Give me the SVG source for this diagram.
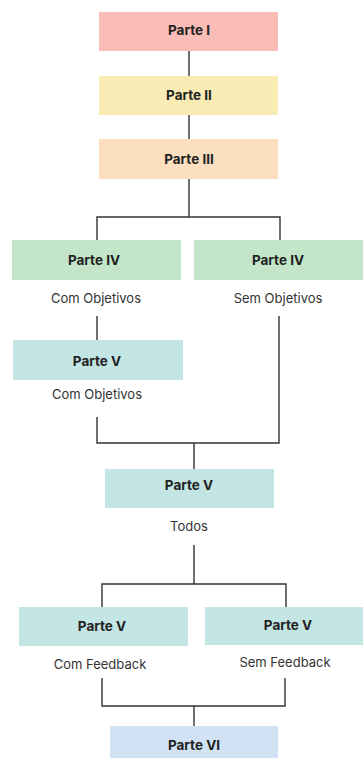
<svg xmlns="http://www.w3.org/2000/svg" width="363" height="758" viewBox="0 0 363 758">
  <style>
    .title { font-family: Inter, "Noto Sans", sans-serif; font-size: 13.5px; font-weight: 700; fill: #222; text-anchor: middle; dominant-baseline: central; }
    .sub { font-family: Inter, "Noto Sans", sans-serif; font-size: 13px; fill: #333; text-anchor: middle; dominant-baseline: central; }
    .wire { fill: none; stroke: #333; stroke-width: 1.4; }
  </style>
  <rect width="363" height="758" fill="#ffffff"/>

  <g id="connectors">
    <path class="wire" d="M189 51 V76"/>
    <path class="wire" d="M189 115 V139"/>
    <path class="wire" d="M189 179 V217 M97 240 V217 H280 V240"/>
    <path class="wire" d="M97 316 V340"/>
    <path class="wire" d="M97 417 V443 H279 V316 M194 443 V469"/>
    <path class="wire" d="M194 545 V584 M102 607 V584 H286 V607"/>
    <path class="wire" d="M102 678 V706 H285 V678 M194 706 V726"/>
  </g>

  <g id="parte-1">
    <rect x="99" y="12" width="179" height="39" fill="#f9bcb6"/>
    <text class="title" x="189" y="30">Parte I</text>
  </g>
  <g id="parte-2">
    <rect x="99" y="76" width="179" height="39" fill="#f8ecb4"/>
    <text class="title" x="189" y="95">Parte II</text>
  </g>
  <g id="parte-3">
    <rect x="99" y="139" width="179" height="40" fill="#fbdfbe"/>
    <text class="title" x="189" y="159">Parte III</text>
  </g>
  <g id="parte-4-com">
    <rect x="12" y="240" width="169" height="40" fill="#c3e5ca"/>
    <text class="title" x="94" y="260">Parte IV</text>
    <text class="sub" x="96" y="298">Com Objetivos</text>
  </g>
  <g id="parte-4-sem">
    <rect x="194" y="240" width="169" height="40" fill="#c3e5ca"/>
    <text class="title" x="278" y="260">Parte IV</text>
    <text class="sub" x="278" y="298">Sem Objetivos</text>
  </g>
  <g id="parte-5-com-obj">
    <rect x="13" y="340" width="170" height="40" fill="#c3e5e4"/>
    <text class="title" x="97" y="361">Parte V</text>
    <text class="sub" x="97" y="394">Com Objetivos</text>
  </g>
  <g id="parte-5-todos">
    <rect x="105" y="469" width="169" height="39" fill="#c3e5e4"/>
    <text class="title" x="189" y="485">Parte V</text>
    <text class="sub" x="189" y="526">Todos</text>
  </g>
  <g id="parte-5-com-fb">
    <rect x="19" y="607" width="169" height="39" fill="#c3e5e4"/>
    <text class="title" x="102" y="626">Parte V</text>
    <text class="sub" x="100" y="664">Com Feedback</text>
  </g>
  <g id="parte-5-sem-fb">
    <rect x="205" y="607" width="158" height="38" fill="#c3e5e4"/>
    <text class="title" x="288" y="625">Parte V</text>
    <text class="sub" x="285" y="662">Sem Feedback</text>
  </g>
  <g id="parte-6">
    <rect x="110" y="726" width="168" height="32" fill="#d0e2f3"/>
    <text class="title" x="194" y="745">Parte VI</text>
  </g>
</svg>
